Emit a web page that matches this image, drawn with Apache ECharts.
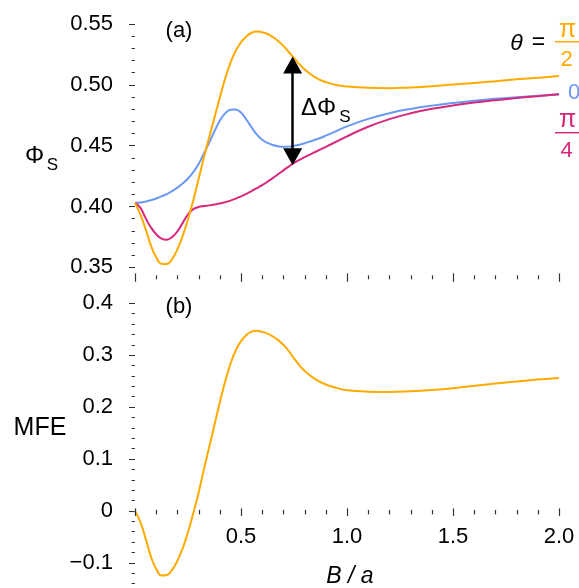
<!DOCTYPE html>
<html><head><meta charset="utf-8">
<script src="https://cdn.jsdelivr.net/npm/echarts@6/dist/echarts.min.js"></script>
<style>html,body{margin:0;padding:0;background:#fff}#c{width:579px;height:588px}</style>
</head><body><div id="c"></div>
<script>
// B / a values (x)
const B = [0, 0.025, 0.05, 0.075, 0.1, 0.125, 0.15, 0.175, 0.2, 0.225, 0.25, 0.275, 0.3, 0.325, 0.35, 0.375, 0.4, 0.425, 0.45, 0.475, 0.5, 0.525, 0.55, 0.575, 0.6, 0.625, 0.65, 0.675, 0.7, 0.725, 0.75, 0.775, 0.8, 0.85, 0.9, 0.95, 1.0, 1.1, 1.2, 1.3, 1.4, 1.5, 1.6, 1.7, 1.8, 1.9, 2.0];
// Phi_S for theta = pi/2
const phiHalfPi = [0.403, 0.3935, 0.3815, 0.368, 0.3582, 0.353, 0.3528, 0.3568, 0.3648, 0.3758, 0.3895, 0.4052, 0.4225, 0.4402, 0.4568, 0.4732, 0.4895, 0.505, 0.518, 0.528, 0.535, 0.5398, 0.5428, 0.5438, 0.5433, 0.5418, 0.5393, 0.536, 0.532, 0.527, 0.522, 0.517, 0.5127, 0.5062, 0.5022, 0.4999, 0.4986, 0.4975, 0.4972, 0.4978, 0.4988, 0.5002, 0.5016, 0.503, 0.5045, 0.5058, 0.5072];
// Phi_S for theta = 0
const phiZero = [0.403, 0.4032, 0.404, 0.4052, 0.4066, 0.4083, 0.4102, 0.4126, 0.4155, 0.419, 0.423, 0.4283, 0.435, 0.4435, 0.4525, 0.4618, 0.4705, 0.4765, 0.4795, 0.4798, 0.4772, 0.4715, 0.465, 0.459, 0.4548, 0.4522, 0.4505, 0.4495, 0.449, 0.4492, 0.4498, 0.4507, 0.452, 0.4548, 0.4582, 0.462, 0.4658, 0.472, 0.4767, 0.4802, 0.4829, 0.485, 0.4869, 0.4885, 0.4898, 0.491, 0.4922];
// Phi_S for theta = pi/4
const phiQuarterPi = [0.403, 0.399, 0.3905, 0.3828, 0.3772, 0.3736, 0.3727, 0.3748, 0.3795, 0.3865, 0.3935, 0.3978, 0.3995, 0.4003, 0.4009, 0.4016, 0.4024, 0.4035, 0.4048, 0.4064, 0.4083, 0.4104, 0.4127, 0.415, 0.4175, 0.4203, 0.4233, 0.4265, 0.4297, 0.4328, 0.4358, 0.4383, 0.4405, 0.4448, 0.449, 0.4533, 0.4577, 0.4655, 0.4718, 0.4766, 0.4803, 0.483, 0.4854, 0.4874, 0.4891, 0.4907, 0.4922];
// MFE for theta = pi/2
const mfe = [0, -0.021, -0.053, -0.088, -0.112, -0.1245, -0.1235, -0.1135, -0.096, -0.072, -0.041, -0.004, 0.035, 0.08, 0.123, 0.166, 0.209, 0.249, 0.283, 0.309, 0.327, 0.339, 0.3455, 0.347, 0.345, 0.3415, 0.336, 0.329, 0.32, 0.308, 0.294, 0.281, 0.27, 0.254, 0.2435, 0.237, 0.2325, 0.2298, 0.2292, 0.2305, 0.233, 0.2365, 0.241, 0.2455, 0.2495, 0.253, 0.2563];

// tick values
const xTicks = [0, 0.5, 1.0, 1.5, 2.0];
const xMinorPerMajor = 5;
const yTicksTop = [0.35, 0.40, 0.45, 0.50, 0.55];
const yTicksBottom = [-0.2, -0.1, 0, 0.1, 0.2, 0.3, 0.4];

// annotation arrow (data coords)
const arrowB = 0.7436;
const arrowTop = 0.5163;
const arrowBottom = 0.4409;

const ORANGE = '#FFAA00';
const BLUE = '#6A98F2';
const MAGENTA = '#D7287C';
const TICK = '#333';
const FONT = '"Liberation Sans", Arial, sans-serif';

// layout
const G2_TOP = 303.3, G2_H = 311.4;
const yMinB = yTicksBottom[0], yMaxB = yTicksBottom[yTicksBottom.length - 1];
const zeroOffset = -G2_H * (0 - yMinB) / (yMaxB - yMinB);

const pairs = ys => B.map((b, i) => [b, ys[i]]);

// x tick marks (major + minor) as [value, isMajor]
const xTickMarks = [];
xTicks.forEach((t, i) => {
  xTickMarks.push([t, 1]);
  if (i < xTicks.length - 1) {
    const step = (xTicks[i + 1] - t) / xMinorPerMajor;
    for (let k = 1; k < xMinorPerMajor; k++) xTickMarks.push([+(t + k * step).toFixed(6), 0]);
  }
});

function yAx(gi, ticks, fmt) {
  return {
    type: 'value', gridIndex: gi, position: 'left', offset: 5,
    min: ticks[0], max: ticks[ticks.length - 1], interval: +(ticks[1] - ticks[0]).toFixed(4),
    axisLine: { show: false }, splitLine: { show: false },
    axisTick: { show: true, inside: false, length: 6, lineStyle: { color: TICK, width: 1 } },
    minorTick: { show: true, splitNumber: 5, length: 3.5, lineStyle: { color: TICK, width: 1 } },
    axisLabel: { margin: 17, fontSize: 22, fontFamily: FONT, color: '#000', formatter: fmt }
  };
}

function xAx(gi, showLabels, offset) {
  return {
    type: 'value', gridIndex: gi, position: 'bottom', offset: offset,
    min: xTicks[0], max: xTicks[xTicks.length - 1], interval: xTicks[1] - xTicks[0],
    axisLine: { show: false, onZero: false }, splitLine: { show: false },
    axisTick: { show: false }, minorTick: { show: false },
    axisLabel: { show: showLabels, showMinLabel: false, margin: 15, fontSize: 22, fontFamily: FONT, color: '#000',
      formatter: v => v.toFixed(1) }
  };
}

function txt(x, y, text, size, color, extra) {
  return { type: 'text', x: x, y: y, silent: true,
    style: Object.assign({ text: text, font: size + 'px ' + FONT, fill: color,
      align: 'center', verticalAlign: 'middle' }, extra || {}) };
}
function bar(x1, x2, y, color) {
  return { type: 'line', silent: true, shape: { x1: x1, y1: y, x2: x2, y2: y },
    style: { stroke: color, lineWidth: 1.5 } };
}

const chart = echarts.init(document.getElementById('c'));
chart.setOption({
  animation: false,
  backgroundColor: '#fff',
  grid: [
    { left: 135, right: 20, top: 24, height: 243.3, outerBoundsMode: 'none', containLabel: false },
    { left: 135, right: 20, top: G2_TOP, height: G2_H, outerBoundsMode: 'none', containLabel: false }
  ],
  xAxis: [xAx(0, false, 0), xAx(1, true, zeroOffset)],
  yAxis: [
    yAx(0, yTicksTop, v => v.toFixed(2)),
    yAx(1, yTicksBottom, v => Math.abs(v) < 1e-9 ? '0' : (v < 0 ? '\u2212' + Math.abs(v).toFixed(1) : v.toFixed(1)))
  ],
  series: [
    { type: 'line', xAxisIndex: 0, yAxisIndex: 0, data: pairs(phiZero), symbol: 'none', smooth: 0.45,
      lineStyle: { color: BLUE, width: 2 }, z: 2 },
    { type: 'line', xAxisIndex: 0, yAxisIndex: 0, data: pairs(phiQuarterPi), symbol: 'none', smooth: 0.45,
      lineStyle: { color: MAGENTA, width: 2 }, z: 3 },
    { type: 'line', xAxisIndex: 0, yAxisIndex: 0, data: pairs(phiHalfPi), symbol: 'none', smooth: 0.45,
      lineStyle: { color: ORANGE, width: 2 }, z: 4,
      markLine: { silent: true, symbol: ['triangle', 'triangle'], symbolSize: [19, 17],
        label: { show: false }, lineStyle: { color: '#000', width: 2.5, type: 'solid' },
        emphasis: { disabled: true },
        data: [[{ coord: [arrowB, arrowTop] }, { coord: [arrowB, arrowBottom] }]] } },
    { type: 'line', xAxisIndex: 1, yAxisIndex: 1, data: pairs(mfe), symbol: 'none', smooth: 0.45,
      lineStyle: { color: ORANGE, width: 2 }, z: 4 }
  ]
});

// x tick marks placed through the chart's own scales
function tickGraphics(gridIndex, baseY, major, minor) {
  return xTickMarks.map(d => {
    const p = chart.convertToPixel({ gridIndex: gridIndex }, [d[0], baseY]);
    const span = d[1] ? major : minor;
    const x = Math.round(p[0]) + 0.5;
    return { type: 'line', silent: true, z: 10,
      shape: { x1: x, y1: p[1] + span[0], x2: x, y2: p[1] + span[1] },
      style: { stroke: TICK, lineWidth: 1.2 } };
  });
}
const tickEls = tickGraphics(0, yTicksTop[0], [6, 14.5], [8, 12])
  .concat(tickGraphics(1, 0, [-2.5, 5], [-1, 3.5]));

const labelEls = [
  txt(179, 31, '(a)', 22, '#000'),
  txt(179, 307, '(b)', 22, '#000'),
  txt(34.5, 156, '\u03A6', 24, '#000'),
  txt(52.5, 165, 'S', 17, '#000'),
  txt(40, 428, 'MFE', 25, '#000'),
  txt(318.5, 108, '\u0394\u03A6', 24, '#000'),
  txt(345, 117, 'S', 17, '#000'),
  txt(350, 577, 'B / a', 23, '#000', { font: 'italic 23px ' + FONT }),
  txt(516.5, 44, '\u03B8', 23, '#000', { font: 'italic 23px ' + FONT }),
  txt(538.5, 43, '=', 23, '#000'),
  txt(567.5, 30, '\u03C0', 25, ORANGE),
  bar(555, 580, 41.7, ORANGE),
  txt(566.5, 60, '2', 22, ORANGE),
  txt(574, 93, '0', 22, BLUE),
  txt(567.5, 120, '\u03C0', 25, MAGENTA),
  bar(555, 580, 132.7, MAGENTA),
  txt(566.5, 150.5, '4', 22, MAGENTA)
];

chart.setOption({ graphic: { elements: labelEls.concat(tickEls) } });
</script></body></html>
